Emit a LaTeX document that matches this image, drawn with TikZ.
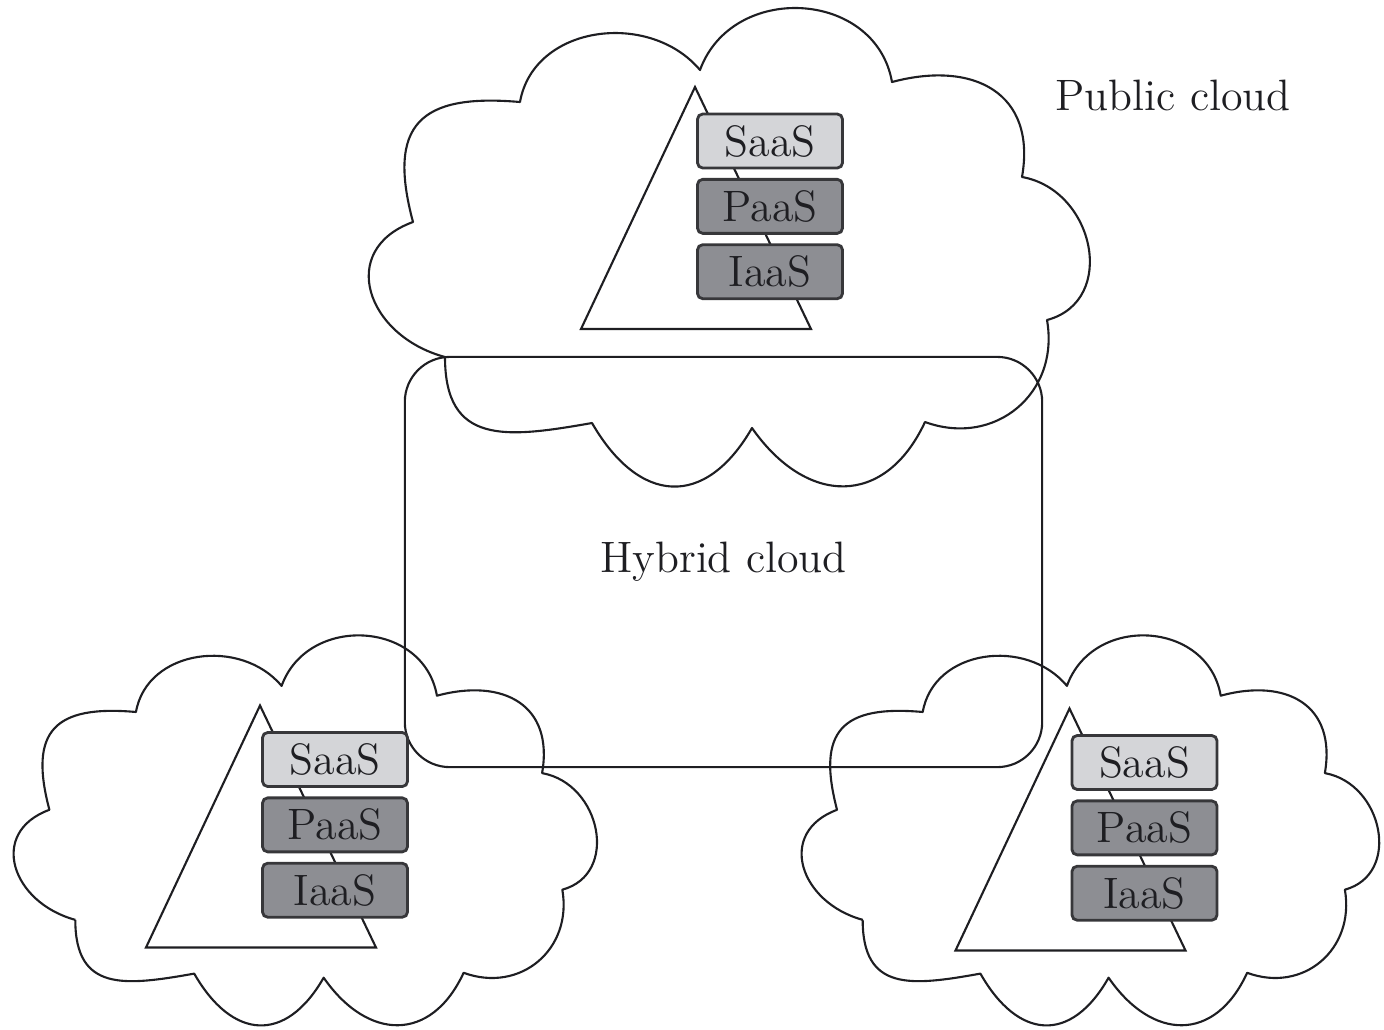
\documentclass[tikz,border=0pt]{standalone}
\usepackage{fontspec}
\usetikzlibrary{positioning}
\definecolor{saasgray}{RGB}{212,213,216}
\definecolor{lowgray}{RGB}{141,142,147}
\definecolor{edgegray}{RGB}{55,55,58}
\definecolor{inkgray}{RGB}{30,30,34}
\tikzset{%
    cloudline/.style={draw=inkgray, line width=0.6pt, line join=round},
    tri/.style={draw=inkgray, line width=0.6pt},
    stackbox/.style={draw=edgegray, line width=0.8pt, rounded corners=1.5pt,
        minimum width=1.45cm, minimum height=0.54cm, inner sep=0pt,
        font=\fontsize{12.5pt}{14pt}\selectfont, text=inkgray},
    saas/.style={stackbox, fill=saasgray},
    lowbox/.style={stackbox, fill=lowgray},
    hybrid/.style={draw=inkgray, line width=0.6pt, rounded corners=0.45cm,
        minimum width=6.37cm, minimum height=4.1cm, inner sep=0pt,
        font=\fontsize{12.5pt}{14pt}\selectfont, text=inkgray},
    cloudname/.style={font=\fontsize{12.5pt}{14pt}\selectfont, text=inkgray, inner sep=0pt}
}
% one cloud outline, drawn at the size of the public cloud
\newcommand{\cloudoutline}{%
    (77,-347)
    to [out=270, in=190, looseness=1.4] (224,-413)
    to [out=-60, in=-120, looseness=1.5] (384,-418)
    to [out=-55, in=-115, looseness=1.4] (557,-412)
    to [out=-20, in=-80, looseness=1.2] (679,-310)
    to [out=15, in=-10, looseness=1.3] (654,-167)
    to [out=80, in=15, looseness=1.35] (524,-72)
    to [out=100, in=70, looseness=1.25] (332,-60)
    to [out=130, in=80, looseness=1.1] (152,-92)
    to [out=175, in=105, looseness=1.6] (45,-212)
    to [out=200, in=165, looseness=1.5] (77,-347)
}
% triangle with the SaaS/PaaS/IaaS stack, #2 = centre of the SaaS box
\newcommand{\servicestack}[2]{%
    \begin{scope}[shift={#2}]
        \draw[tri] (-75,54) -- (-189,-188) -- (41,-188) -- cycle;
        \node[saas] (#1saas) at (0,0) {SaaS};
        \node[lowbox, below=0.085cm of #1saas] (#1paas) {PaaS};
        \node[lowbox, below=0.085cm of #1paas] (#1iaas) {IaaS};
    \end{scope}
}

\begin{document}
\begin{tikzpicture}[x=0.01cm, y=0.01cm]
\useasboundingbox (0,0) rectangle (1384,-1029);

% clouds
\begin{scope}[shift={(368,-10)}]
    \draw[cloudline] \cloudoutline;
\end{scope}
\begin{scope}[shift={(13,-637)}, xscale=0.809, yscale=0.815]
    \draw[cloudline] \cloudoutline;
\end{scope}
\begin{scope}[shift={(801,-637)}, xscale=0.801, yscale=0.815]
    \draw[cloudline] \cloudoutline;
\end{scope}

\node[hybrid] (hybrid) at (723.5,-562) {Hybrid cloud};
\node[cloudname, anchor=base west] (public) at (1055,-110) {Public cloud};

\servicestack{pub}{(770,-141)}
\servicestack{left}{(335,-759.5)}
\servicestack{right}{(1144.5,-762.5)}
\end{tikzpicture}
\end{document}
